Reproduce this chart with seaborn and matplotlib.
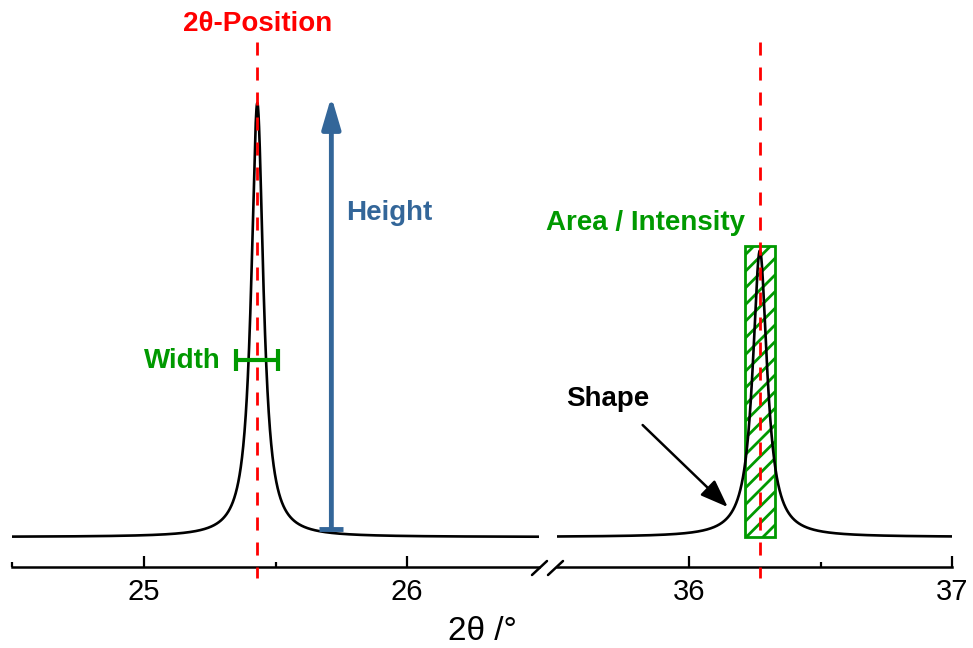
import numpy as np
import pandas as pd
import matplotlib
matplotlib.use("Agg")
import matplotlib.pyplot as plt
import seaborn as sns
from matplotlib.patches import Rectangle, ArrowStyle
from matplotlib.lines import Line2D
from matplotlib.ticker import FixedLocator, FixedFormatter

sns.set_style("white")
plt.rcParams["font.family"] = ["Liberation Sans", "DejaVu Sans"]
plt.rcParams["hatch.linewidth"] = 2.0
plt.rcParams["text.color"] = "black"

# ---------------- data ----------------
peak_positions = [25.431, 36.27]     # 2theta of the two reflections
peak_heights = [100.0, 66.0]         # relative heights
peak_fwhm = [0.055, 0.066]           # full width at half maximum (deg)
left_range = [24.5, 26.5]
right_range = [35.5, 37.0]
left_ticks = [25, 26]
right_ticks = [36, 37]
left_minor = [24.5, 25.5]
right_minor = [36.5]
left_ticklabels = ["25", "26"]
right_ticklabels = ["36", "37"]
height_arrow_x = 25.712
height_arrow_y = [1.8, 101.5]
width_bar_x = [25.351, 25.511]
width_bar_y = 40.8
area_box_x = [36.213, 36.327]
area_box_y = [0.0, 67.0]

RED = "#ff0000"
GREEN = "#009900"
BLUE = "#336699"

W, H = 973, 648
fig = plt.figure(figsize=(W / 100, H / 100), dpi=100)
PX = 263.5
ax1 = fig.add_axes([12 / W, 81 / H, (2 * PX) / W, 567 / H])
ax2 = fig.add_axes([557 / W, 81 / H, (1.5 * PX) / W, 567 / H])
ylim = (-30 / 4.34, 537 / 4.34)


def profile(x):
    y = np.zeros_like(x)
    for c, h, w in zip(peak_positions, peak_heights, peak_fwhm):
        y += h / (1 + (2 * (x - c) / w) ** 2)
    return y


for ax, rng, ticks, minor, labels in [
    (ax1, left_range, left_ticks, left_minor, left_ticklabels),
    (ax2, right_range, right_ticks, right_minor, right_ticklabels),
]:
    x = np.linspace(rng[0], rng[1], 3000)
    df = pd.DataFrame({"x": x, "y": profile(x)})
    sns.lineplot(data=df, x="x", y="y", ax=ax, color="black", lw=1.9,
                 estimator=None, zorder=3)
    ax.set_xlim(rng)
    ax.set_ylim(ylim)
    for s in ["top", "left", "right"]:
        ax.spines[s].set_visible(False)
    ax.spines["bottom"].set_linewidth(1.8)
    ax.spines["bottom"].set_color("black")
    ax.set_yticks([])
    ax.xaxis.set_major_locator(FixedLocator(ticks))
    ax.xaxis.set_major_formatter(FixedFormatter(labels))
    ax.xaxis.set_minor_locator(FixedLocator(minor))
    ax.tick_params(axis="x", which="major", direction="in", length=8,
                   width=1.6, color="black", pad=8, labelsize=21,
                   bottom=True, labelcolor="black")
    ax.tick_params(axis="x", which="minor", direction="in", length=3.5,
                   width=1.6, color="black", bottom=True)
    for lab in ax.get_xticklabels():
        lab.set_family(["Liberation Sans Narrow", "Liberation Sans"])
    ax.set_xlabel("")
    ax.set_ylabel("")
    ax.patch.set_alpha(0)

# red dashed position lines
for ax, p in [(ax1, peak_positions[0]), (ax2, peak_positions[1])]:
    ax.plot([p, p], [114.0, -9.4], color=RED, lw=2.0,
            linestyle=(0, (4.7, 4.3)), clip_on=False, zorder=5)

# area box with hatch
rect = Rectangle((area_box_x[0], area_box_y[0]), area_box_x[1] - area_box_x[0],
                 area_box_y[1] - area_box_y[0], fill=False, edgecolor=GREEN,
                 hatch="//", lw=2.0, zorder=2)
ax2.add_patch(rect)

# height arrow
ax1.annotate("", xy=(height_arrow_x, height_arrow_y[1]),
             xytext=(height_arrow_x, height_arrow_y[0]),
             arrowprops=dict(arrowstyle=ArrowStyle("-|>", head_length=0.95, head_width=0.28),
                             mutation_scale=20, lw=3.5, color=BLUE,
                             shrinkA=0, shrinkB=0), zorder=4)
ax1.plot([height_arrow_x - 0.0455, height_arrow_x + 0.0455],
         [height_arrow_y[0], height_arrow_y[0]], color=BLUE, lw=3.5,
         solid_capstyle="butt", zorder=4)

# width bar
ax1.plot(width_bar_x, [width_bar_y, width_bar_y], color=GREEN, lw=3.0,
         marker="|", ms=16, mew=3.0, zorder=4)

# shape arrow
ax2.annotate("", xy=(36.148, 6.9), xytext=(35.825, 25.8),
             arrowprops=dict(arrowstyle=ArrowStyle("-|>", head_length=0.85, head_width=0.32),
                             mutation_scale=20, lw=1.8, color="black",
                             shrinkA=0, shrinkB=0), annotation_clip=False)

bold = dict(fontsize=20, fontweight="bold", ha="center", va="center")
ax1.text(25.433, 118.3, "2θ-Position", color=RED, clip_on=False, **bold)
ax1.text(25.932, 74.6, "Height", color=BLUE, clip_on=False, **bold)
ax1.text(25.147, 40.6, "Width", color=GREEN, clip_on=False, **bold)
ax2.text(35.837, 72.4, "Area / Intensity", color=GREEN, clip_on=False, **bold)
ax2.text(35.693, 31.8, "Shape", color="black", clip_on=False, **bold)

# axis break marks
for (x0, y0, x1, y1) in [(532, 575, 547, 561), (548, 575, 563, 561)]:
    fig.add_artist(Line2D([x0 / W, x1 / W], [1 - y0 / H, 1 - y1 / H],
                          transform=fig.transFigure, color="black", lw=1.8))

fig.text(482 / W, 1 - 632 / H, "2θ /°", ha="center", va="center", fontsize=24,
         color="black", family=["Liberation Sans Narrow", "Liberation Sans"])

fig.savefig("out.png", dpi=100)
